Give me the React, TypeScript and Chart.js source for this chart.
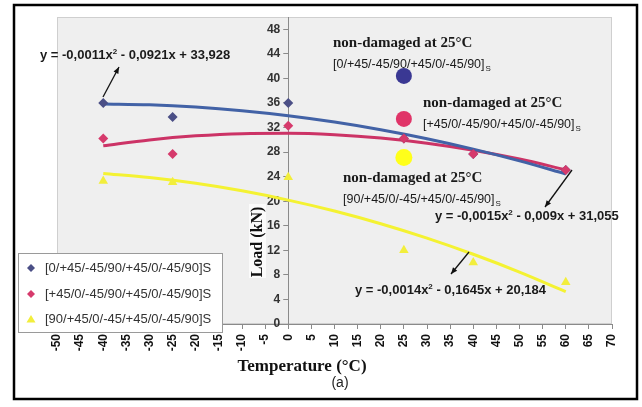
import React, { useEffect, useRef } from 'react';
import { Chart, registerables } from 'chart.js';

Chart.register(...registerables);

// ---- data ----
const tempX = [-40, -25, 0, 25, 40, 60];
const loadBlue = [36.0, 33.7, 36.0, 30.2, 27.7, 25.1];
const loadPink = [30.2, 27.7, 32.3, 30.2, 27.7, 25.1];
const loadYellow = [23.3, 23.1, 23.9, 12.0, 10.0, 6.8];

const trendX = [-40, -30, -20, -10, 0, 10, 20, 30, 40, 50, 60];
const trendBlue = [35.85, 35.7, 35.33, 34.74, 33.93, 32.9, 31.65, 30.18, 28.48, 26.57, 24.44];
const trendPink = [29.02, 29.98, 30.64, 31.0, 31.06, 30.82, 30.28, 29.44, 28.3, 26.86, 25.12];
const trendYellow = [24.52, 23.86, 22.91, 21.69, 20.18, 18.4, 16.33, 13.99, 11.36, 8.46, 5.27];

const refX = [25];
const refBlue = [40.4];
const refPink = [33.4];
const refYellow = [27.1];

const seriesLabels = [
  '[0/+45/-45/90/+45/0/-45/90]S',
  '[+45/0/-45/90/+45/0/-45/90]S',
  '[90/+45/0/-45/+45/0/-45/90]S',
];
const refLabels = [
  '[0/+45/-45/90/+45/0/-45/90]',
  '[+45/0/-45/90/+45/0/-45/90]',
  '[90/+45/0/-45/+45/0/-45/90]',
];
const refTitle = 'non-damaged at 25°C';
const eqBlue = ['y = -0,0011x', '2', ' - 0,0921x + 33,928'];
const eqPink = ['y = -0,0015x', '2', ' - 0,009x + 31,055'];
const eqYellow = ['y = -0,0014x', '2', ' - 0,1645x + 20,184'];

const xMin = -50;
const xMax = 70;
const xStep = 5;
const yTicks = [0, 4, 8, 12, 16, 20, 24, 28, 32, 36, 40, 44, 48];

const xTitle = 'Temperature (°C)';
const yTitle = 'Load (kN)';
const caption = '(a)';

const C_BLUE_LINE = '#4262a6';
const C_PINK_LINE = '#cc3366';
const C_YEL_LINE = '#f4f232';
const C_BLUE_PT = '#4b4f86';
const C_PINK_PT = '#d63a6c';
const C_YEL_PT = '#f2ee3c';

const zip = (xs: number[], ys: number[]) => xs.map((x, i) => ({ x, y: ys[i] }));

const SANS = '"Liberation Sans", Arial, sans-serif';
const SERIF = '"Liberation Serif", "Times New Roman", serif';

function arrow(ctx: CanvasRenderingContext2D, x1: number, y1: number, x2: number, y2: number) {
  ctx.save();
  ctx.strokeStyle = '#111';
  ctx.fillStyle = '#111';
  ctx.lineWidth = 1.3;
  ctx.beginPath();
  ctx.moveTo(x1, y1);
  ctx.lineTo(x2, y2);
  ctx.stroke();
  const a = Math.atan2(y2 - y1, x2 - x1);
  const L = 7;
  ctx.beginPath();
  ctx.moveTo(x2, y2);
  ctx.lineTo(x2 - L * Math.cos(a - 0.4), y2 - L * Math.sin(a - 0.4));
  ctx.lineTo(x2 - L * Math.cos(a + 0.4), y2 - L * Math.sin(a + 0.4));
  ctx.closePath();
  ctx.fill();
  ctx.restore();
}

function eq(ctx: CanvasRenderingContext2D, parts: string[], x: number, y: number) {
  ctx.fillStyle = '#1a1a1a';
  ctx.textBaseline = 'alphabetic';
  ctx.textAlign = 'left';
  ctx.font = `bold 13px ${SANS}`;
  ctx.fillText(parts[0], x, y);
  let w = ctx.measureText(parts[0]).width;
  ctx.font = `bold 8px ${SANS}`;
  ctx.fillText(parts[1], x + w, y - 5);
  w += ctx.measureText(parts[1]).width;
  ctx.font = `bold 13px ${SANS}`;
  ctx.fillText(parts[2], x + w, y);
}

function refNote(ctx: CanvasRenderingContext2D, label: string, x: number, y: number) {
  ctx.fillStyle = '#1a1a1a';
  ctx.textAlign = 'left';
  ctx.textBaseline = 'alphabetic';
  ctx.font = `bold 15px ${SERIF}`;
  ctx.fillText(refTitle, x, y);
  ctx.font = `12.5px ${SANS}`;
  ctx.fillText(label, x, y + 21);
  const w = ctx.measureText(label).width;
  ctx.font = `8px ${SANS}`;
  ctx.fillText('S', x + w + 1, y + 24);
}

const decor = {
  id: 'decor',
  afterLayout(chart: any) {
    // put the y axis on the x = 0 line
    const xs = chart.scales.x;
    const ys = chart.scales.y;
    const px = xs.getPixelForValue(0);
    ys.left = px - 40;
    ys.right = px;
    ys.width = 40;
  },
  beforeDraw(chart: any) {
    const { ctx, chartArea: ca, width, height } = chart;
    ctx.save();
    ctx.fillStyle = '#ffffff';
    ctx.fillRect(0, 0, width, height);
    ctx.fillStyle = '#efefef';
    ctx.fillRect(ca.left, ca.top, ca.right - ca.left, ca.bottom - ca.top);
    ctx.strokeStyle = '#cfcfcf';
    ctx.lineWidth = 1;
    ctx.strokeRect(ca.left + 0.5, ca.top + 0.5, ca.right - ca.left - 1, ca.bottom - ca.top - 1);
    ctx.strokeStyle = '#000';
    ctx.lineWidth = 2.5;
    ctx.strokeRect(14, 5, 623, 394);
    // light patch behind y title
    ctx.fillStyle = '#fbfbfb';
    ctx.fillRect(249, 204, 17, 74);
    ctx.restore();
  },
  afterDraw(chart: any) {
    const { ctx } = chart;
    ctx.save();
    // y title
    ctx.save();
    ctx.translate(258, 242);
    ctx.rotate(-Math.PI / 2);
    ctx.font = `bold 16px ${SERIF}`;
    ctx.fillStyle = '#111';
    ctx.textAlign = 'center';
    ctx.textBaseline = 'middle';
    ctx.fillText(yTitle, 0, 0);
    ctx.restore();
    // x title
    ctx.font = `bold 17px ${SERIF}`;
    ctx.fillStyle = '#111';
    ctx.textAlign = 'center';
    ctx.textBaseline = 'middle';
    ctx.fillText(xTitle, 302, 367);
    ctx.font = `14px ${SANS}`;
    ctx.fillStyle = '#222';
    ctx.fillText(caption, 340, 383);

    // notes
    refNote(ctx, refLabels[0], 333, 47);
    refNote(ctx, refLabels[1], 423, 107);
    refNote(ctx, refLabels[2], 343, 182);

    // equations
    eq(ctx, eqBlue, 40, 59);
    eq(ctx, eqPink, 435, 220);
    eq(ctx, eqYellow, 355, 294);
    arrow(ctx, 103, 97, 119, 67);
    arrow(ctx, 572, 170, 545, 207);
    arrow(ctx, 469, 252, 451, 274);

    // legend
    ctx.fillStyle = '#ffffff';
    ctx.fillRect(18, 253, 204, 79);
    ctx.strokeStyle = '#9a9a9a';
    ctx.lineWidth = 1;
    ctx.strokeRect(18.5, 253.5, 204, 79);
    const rows = [268, 294, 319];
    const cols = [C_BLUE_PT, C_PINK_PT, C_YEL_PT];
    rows.forEach((ry, i) => {
      const mx = 31;
      ctx.fillStyle = cols[i];
      ctx.beginPath();
      if (i < 2) {
        ctx.moveTo(mx, ry - 4);
        ctx.lineTo(mx + 4, ry);
        ctx.lineTo(mx, ry + 4);
        ctx.lineTo(mx - 4, ry);
      } else {
        ctx.moveTo(mx, ry - 4);
        ctx.lineTo(mx + 4.5, ry + 3.5);
        ctx.lineTo(mx - 4.5, ry + 3.5);
      }
      ctx.closePath();
      ctx.fill();
      ctx.fillStyle = '#333';
      ctx.font = `13px ${SANS}`;
      ctx.textAlign = 'left';
      ctx.textBaseline = 'middle';
      ctx.fillText(seriesLabels[i], 45, ry);
    });
    ctx.restore();
  },
};

export default function App() {
  const ref = useRef<HTMLCanvasElement | null>(null);
  useEffect(() => {
    if (!ref.current) return;
    const lineDs = (data: number[], color: string, order: number) => ({
      label: '',
      data: zip(trendX, data),
      showLine: true,
      borderColor: color,
      backgroundColor: color,
      borderWidth: 3,
      pointRadius: 0,
      cubicInterpolationMode: 'monotone' as const,
      fill: false,
      order,
    });
    const ptDs = (label: string, xs: number[], ys: number[], color: string, style: string, r: number, order: number) => ({
      label,
      data: zip(xs, ys),
      showLine: false,
      pointStyle: style,
      pointRadius: r,
      pointBackgroundColor: color,
      pointBorderColor: color,
      pointBorderWidth: 0,
      order,
    });
    const chart = new Chart(ref.current, {
      type: 'scatter',
      data: {
        datasets: [
          ptDs(seriesLabels[0], tempX, loadBlue, C_BLUE_PT, 'rectRot', 5, 3),
          ptDs(seriesLabels[1], tempX, loadPink, C_PINK_PT, 'rectRot', 5, 2),
          ptDs(seriesLabels[2], tempX, loadYellow, C_YEL_PT, 'triangle', 5.5, 2),
          ptDs('ref0', refX, refBlue, '#3a3893', 'circle', 8, 1),
          ptDs('ref1', refX, refPink, '#e03468', 'circle', 8, 1),
          ptDs('ref2', refX, refYellow, '#ffff1a', 'circle', 8.5, 1),
          lineDs(trendBlue, C_BLUE_LINE, 5),
          lineDs(trendPink, C_PINK_LINE, 6),
          lineDs(trendYellow, C_YEL_LINE, 7),
        ] as any,
      },
      options: {
        responsive: false,
        animation: false,
        events: [],
        layout: { padding: { left: 57, right: 30, top: 17, bottom: 43 } },
        plugins: { legend: { display: false }, tooltip: { enabled: false } },
        scales: {
          x: {
            type: 'linear',
            position: 'bottom',
            min: xMin,
            max: xMax,
            ticks: {
              stepSize: xStep,
              minRotation: 90,
              maxRotation: 90,
              autoSkip: false,
              padding: 5,
              color: '#111',
              font: { family: SANS, size: 12, weight: 'bold' },
            },
            grid: { drawOnChartArea: false, drawTicks: true, tickLength: 5, color: '#8a8a8a' },
            border: { color: '#8a8a8a' },
            afterFit: (s: any) => {
              s.height = 40;
            },
          },
          y: {
            type: 'linear',
            position: 'left',
            min: 0,
            max: 50,
            afterBuildTicks: (s: any) => {
              s.ticks = yTicks.map((v) => ({ value: v }));
            },
            ticks: {
              padding: 3,
              color: '#333',
              font: { family: SANS, size: 12, weight: 'bold' },
            },
            grid: { drawOnChartArea: false, drawTicks: true, tickLength: 5, color: '#8a8a8a' },
            border: { color: '#8a8a8a' },
            afterFit: (s: any) => {
              s.width = 0;
            },
          },
        },
      } as any,
      plugins: [decor],
    });
    return () => chart.destroy();
  }, []);
  return (
    <div style={{ position: 'absolute', left: 0, top: 0, width: 642, height: 407 }}>
      <canvas ref={ref} width={642} height={407} style={{ display: 'block' }} />
    </div>
  );
}
